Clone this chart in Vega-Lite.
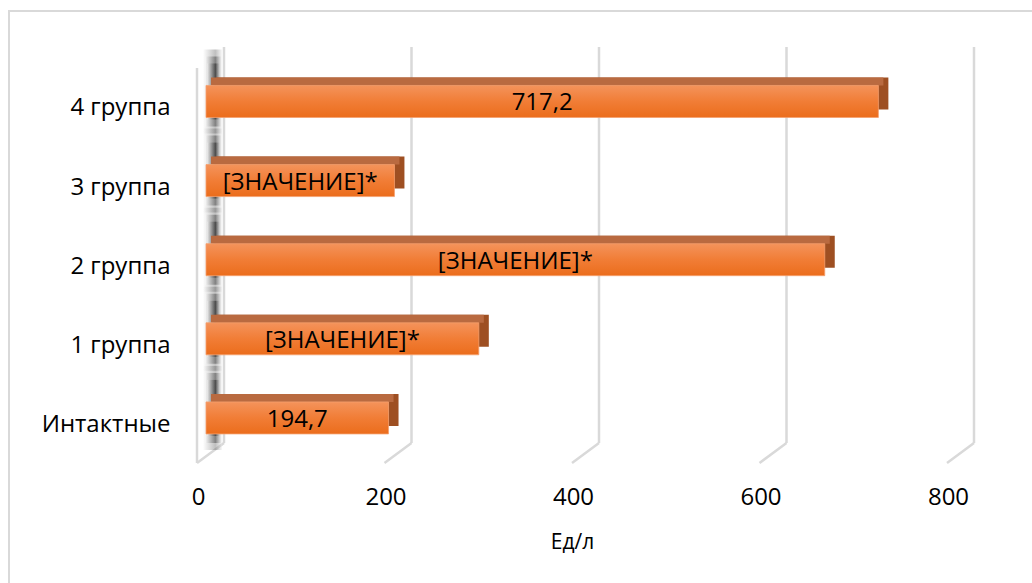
{
  "$schema": "https://vega.github.io/schema/vega-lite/v6.json",
  "width": 750,
  "height": 416,
  "autosize": "none",
  "padding": {"left": 206, "top": 47, "right": 76, "bottom": 120},
  "background": "#ffffff",
  "config": {
    "view": {"stroke": null},
    "font": "Open Sans",
    "axisX": {
      "tickCount": 4, "grid": false, "ticks": false, "domain": false,
      "labelFontSize": 24, "labelColor": "#000000", "labelOffset": -8, "labelPadding": 22,
      "labelFont": "Open Sans", "labelFlush": false,
      "titleFontSize": 21, "titleFontWeight": "normal", "titleColor": "#000000", "titleFont": "Open Sans",
      "titleX": 366, "titleY": 79, "titleBaseline": "middle"
    },
    "axisY": {
      "ticks": false, "domain": false, "grid": false,
      "labelFontSize": 24, "labelColor": "#000000", "labelPadding": 36, "labelOffset": 7,
      "labelFont": "Open Sans"
    }
  },
  "datasets": {
    "groups": [
      {"g": "4 группа", "v": 717.2, "label": "717,2"},
      {"g": "3 группа", "v": 201, "label": "[ЗНАЧЕНИЕ]*"},
      {"g": "2 группа", "v": 660, "label": "[ЗНАЧЕНИЕ]*"},
      {"g": "1 группа", "v": 291, "label": "[ЗНАЧЕНИЕ]*"},
      {"g": "Интактные", "v": 194.7, "label": "194,7"}
    ],
    "ticks": [{"t": 0}, {"t": 200}, {"t": 400}, {"t": 600}, {"t": 800}]
  },
  "layer": [
    {
      "description": "chart area border",
      "data": {"name": "ticks"},
      "mark": {"type": "rect", "fill": null, "stroke": "#d9d9d9", "strokeWidth": 2},
      "encoding": {
        "x": {"value": -197},
        "x2": {"value": 834},
        "y": {"value": -36},
        "y2": {"value": 543}
      }
    },
    {
      "description": "bar front face (defines the shared scales and axes)",
      "data": {"name": "groups"},
      "mark": {"type": "bar", "height": 32, "opacity": 0},
      "encoding": {
        "x": {
          "field": "v", "type": "quantitative", "title": "Ед/л",
          "scale": {"domain": [0, 800], "nice": false, "zero": true}
        },
        "y": {
          "field": "g", "type": "nominal", "title": null,
          "sort": ["4 группа", "3 группа", "2 группа", "1 группа", "Интактные"],
          "scale": {"paddingInner": 0, "paddingOuter": 0.129, "align": 0.73}
        }
      }
    },
    {
      "description": "back wall gridlines",
      "data": {"name": "ticks"},
      "mark": {"type": "rule", "color": "#d9d9d9", "strokeWidth": 2.5, "xOffset": 18, "x2Offset": 18},
      "encoding": {
        "x": {"field": "t", "type": "quantitative", "title": "Ед/л"},
        "y": {"value": 0},
        "y2": {"value": {"expr": "height - 20"}}
      }
    },
    {
      "description": "floor gridlines running to the front edge",
      "data": {"name": "ticks"},
      "mark": {"type": "rule", "color": "#d9d9d9", "strokeWidth": 2.5, "xOffset": 18, "x2Offset": -9},
      "encoding": {
        "x": {"field": "t", "type": "quantitative", "title": "Ед/л"},
        "x2": {"field": "t"},
        "y": {"value": {"expr": "height - 20"}},
        "y2": {"value": {"expr": "height"}}
      }
    },
    {
      "description": "front edge of the side wall",
      "data": {"name": "ticks"},
      "transform": [{"filter": "datum.t == 0"}],
      "mark": {"type": "rule", "color": "#d9d9d9", "strokeWidth": 2.5, "xOffset": -9, "x2Offset": -9},
      "encoding": {
        "x": {"field": "t", "type": "quantitative", "title": "Ед/л"},
        "y": {"value": 21},
        "y2": {"value": {"expr": "height"}}
      }
    },
    {
      "description": "soft shadows cast on the side wall",
      "data": {"name": "groups"},
      "layer": [
        {"mark": {"type": "bar", "height": 84, "yOffset": -10, "xOffset": 16, "x2Offset": -3, "opacity": 0.4,
          "color": {"gradient": "linear", "x1": 0, "y1": 0, "x2": 1, "y2": 0,
            "stops": [{"offset": 0, "color": "#ffffff"}, {"offset": 0.65, "color": "#5f5f5f"}, {"offset": 1, "color": "#eeeeee"}]}}},
        {"mark": {"type": "bar", "height": 70, "yOffset": -10, "xOffset": 15, "x2Offset": -1, "opacity": 0.5,
          "color": {"gradient": "linear", "x1": 0, "y1": 0, "x2": 1, "y2": 0,
            "stops": [{"offset": 0, "color": "#ffffff"}, {"offset": 0.65, "color": "#444444"}, {"offset": 1, "color": "#e6e6e6"}]}}},
        {"mark": {"type": "bar", "height": 56, "yOffset": -10, "xOffset": 14, "x2Offset": 1, "opacity": 0.6,
          "color": {"gradient": "linear", "x1": 0, "y1": 0, "x2": 1, "y2": 0,
            "stops": [{"offset": 0, "color": "#f5f5f5"}, {"offset": 0.65, "color": "#2a2a2a"}, {"offset": 1, "color": "#dddddd"}]}}}
      ],
      "encoding": {
        "x": {"datum": 0, "type": "quantitative", "title": "Ед/л"},
        "x2": {"datum": 0},
        "y": {"field": "g", "type": "nominal", "title": null,
          "sort": ["4 группа", "3 группа", "2 группа", "1 группа", "Интактные"]}
      }
    },
    {
      "description": "bar side face (extruded depth)",
      "data": {"name": "groups"},
      "mark": {"type": "bar", "height": 32, "color": "#9e4f22", "xOffset": 10, "x2Offset": 10, "yOffset": -8},
      "encoding": {
        "x": {"field": "v", "type": "quantitative", "title": "Ед/л"},
        "y": {"field": "g", "type": "nominal", "title": null,
          "sort": ["4 группа", "3 группа", "2 группа", "1 группа", "Интактные"]}
      }
    },
    {
      "description": "bar top face",
      "data": {"name": "groups"},
      "mark": {"type": "bar", "height": 8, "color": "#b96a40", "xOffset": 5, "x2Offset": 5, "yOffset": -20},
      "encoding": {
        "x": {"field": "v", "type": "quantitative", "title": "Ед/л"},
        "y": {"field": "g", "type": "nominal", "title": null,
          "sort": ["4 группа", "3 группа", "2 группа", "1 группа", "Интактные"]}
      }
    },
    {
      "description": "bar front face",
      "data": {"name": "groups"},
      "mark": {"type": "bar", "height": 32, "stroke": "#f5a06e", "strokeWidth": 0.8,
        "color": {"gradient": "linear", "x1": 0, "y1": 0, "x2": 0, "y2": 1,
          "stops": [{"offset": 0, "color": "#f4935b"}, {"offset": 0.5, "color": "#f17d36"}, {"offset": 1, "color": "#eb6d1c"}]}},
      "encoding": {
        "x": {"field": "v", "type": "quantitative", "title": "Ед/л"},
        "y": {"field": "g", "type": "nominal", "title": null,
          "sort": ["4 группа", "3 группа", "2 группа", "1 группа", "Интактные"]}
      }
    },
    {
      "description": "value labels centred in the bars",
      "data": {"name": "groups"},
      "transform": [{"calculate": "datum.v / 2", "as": "mid"}],
      "mark": {"type": "text", "fontSize": 24, "color": "#000000", "baseline": "middle", "align": "center", "dy": 2, "font": "Open Sans"},
      "encoding": {
        "x": {"field": "mid", "type": "quantitative", "title": "Ед/л"},
        "y": {"field": "g", "type": "nominal", "title": null,
          "sort": ["4 группа", "3 группа", "2 группа", "1 группа", "Интактные"]},
        "text": {"field": "label"}
      }
    }
  ]
}
